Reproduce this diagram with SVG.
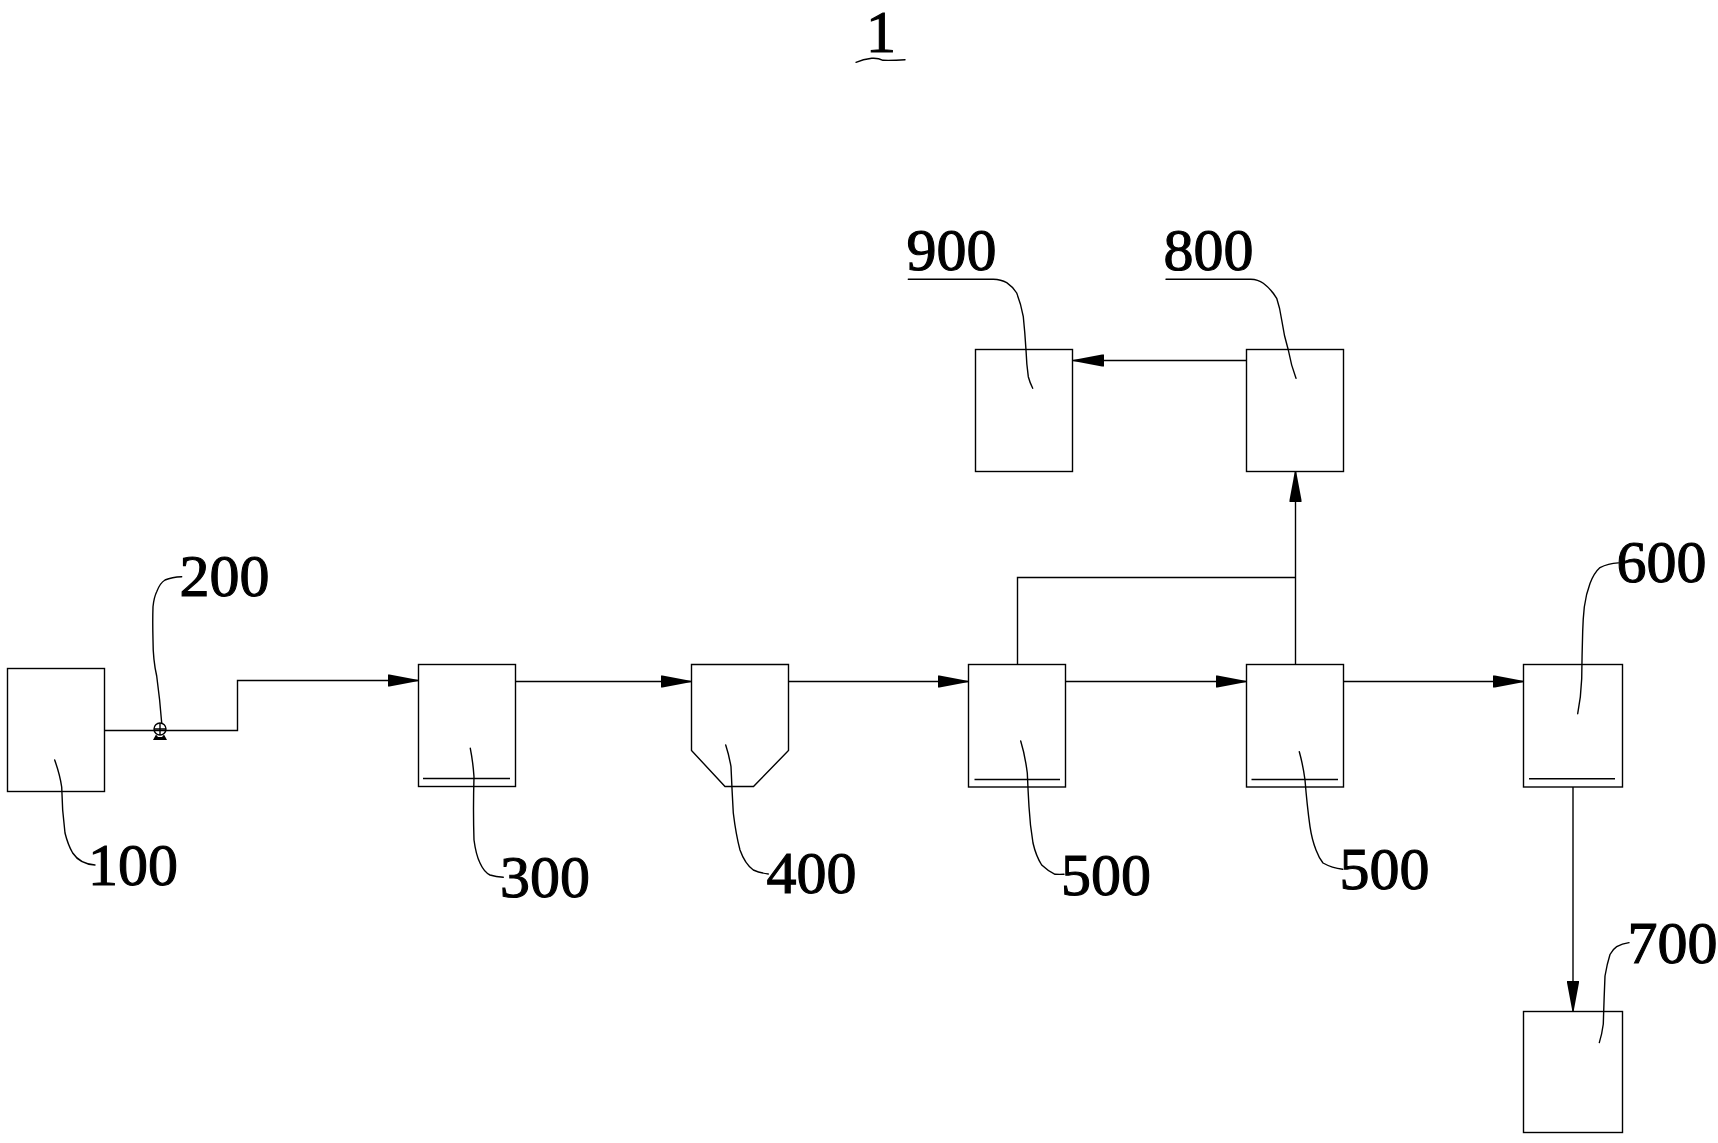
<svg xmlns="http://www.w3.org/2000/svg" width="1718" height="1143" viewBox="0 0 1718 1143">
<style>
.s{fill:none;stroke:#000;stroke-width:1.4}
.l{fill:none;stroke:#000;stroke-width:1.4;stroke-linecap:round}
.t{font-family:"Liberation Serif","Times New Roman",serif;font-size:60px;fill:#000;stroke:#000;stroke-width:1.1}
.c{fill:none;stroke:#000;stroke-width:1.4;marker-end:url(#a)}
</style>
<defs>
<marker id="a" markerUnits="userSpaceOnUse" markerWidth="32" markerHeight="14" refX="31" refY="7" orient="auto"><path d="M0 1L2 1L31 6.4V7.6L2 13L0 13Z" fill="#000"/></marker>
</defs>
<rect width="1718" height="1143" fill="#fff"/>
<g id="connectors">
<path class="c" d="M104 730.5H237.5V680.5H418.5"/>
<path class="c" d="M516 681.5H691.5"/>
<path class="c" d="M788 681.5H968.5"/>
<path class="c" d="M1066 681.5H1246.5"/>
<path class="c" d="M1344 681.5H1524"/>
<path class="c" d="M1573 787V1011.5"/>
<path class="c" d="M1295.5 664V471"/>
<path class="s" d="M1017.5 664V577.5H1295.5"/>
<path class="c" d="M1246 360.5H1073"/>
</g>
<g id="title">
<text class="t" x="866" y="52">1</text>
<path class="l" d="M856 62.3Q863 59.5 871.7 58.3Q878 57.8 883 60.3Q893 60.6 905 59.7"/>
</g>
<g id="node-100">
<rect class="s" x="7.5" y="668.5" width="97" height="123"/>
<path class="l" d="M54.7 760Q60 775 61.7 787Q62 810 65 833Q68 845 72.7 853Q80 864 95 865"/>
<text class="t" x="88" y="885">100</text>
</g>
<g id="node-200">
<circle class="s" cx="160" cy="729" r="6"/>
<path class="s" d="M160 723V735M154 729H166"/>
<path d="M156 734.5L153 740H167L164 734.5L162 737H158Z" fill="#000"/>
<path class="l" d="M161.7 723Q160 700 156.7 676Q153 660 153 640Q152.5 620 153 606.7Q154 597 156.7 591.7Q160 583 165 580Q172 577 181.7 576.7"/>
<text class="t" x="179.5" y="596">200</text>
</g>
<g id="node-300">
<rect class="s" x="418.5" y="664.5" width="97" height="122"/>
<path class="s" d="M423 778.5H510"/>
<path class="l" d="M470.3 748.3Q473 762 474 776.7Q473 810 474 840Q476 855 480 863Q484 872 490 875Q496 877 503.3 877.3"/>
<text class="t" x="500" y="897">300</text>
</g>
<g id="node-400">
<path class="s" d="M691.5 664.5H788.5V750.5L753.5 786.5H725L691.5 750.5Z"/>
<path class="l" d="M725.7 745Q729 755 731 766.7Q732 790 733.3 813Q736 835 740 850Q745 864 753.3 870Q760 873 768.3 874"/>
<text class="t" x="766.5" y="893">400</text>
</g>
<g id="node-500a">
<rect class="s" x="968.5" y="664.5" width="97" height="122.5"/>
<path class="s" d="M974.5 779.5H1060"/>
<path class="l" d="M1020.7 741Q1025 755 1027.3 773Q1028 790 1029 806.7Q1030 825 1033 843Q1036 856 1041.7 865Q1048 871 1055 874.3Q1060 874.5 1064 874.3"/>
<text class="t" x="1061" y="895">500</text>
</g>
<g id="node-500b">
<rect class="s" x="1246.5" y="664.5" width="97" height="122.5"/>
<path class="s" d="M1251.5 779.5H1338"/>
<path class="l" d="M1299.3 751.7Q1303 765 1305 780Q1307 805 1310 826.7Q1312 840 1316 850Q1319 858 1323 863Q1332 868 1342.7 869.3"/>
<text class="t" x="1339.5" y="889">500</text>
</g>
<g id="node-600">
<rect class="s" x="1523.5" y="664.5" width="99" height="122.5"/>
<path class="s" d="M1529 778.7H1615"/>
<path class="l" d="M1577.7 713.7Q1581 697 1581.7 678.7Q1582 655 1582.7 631Q1583 619 1584.3 607Q1586 594 1590 583.5Q1594 573 1600 567.6Q1608 563.5 1618.3 562.9"/>
<text class="t" x="1616.5" y="582">600</text>
</g>
<g id="node-700">
<rect class="s" x="1523.5" y="1011.5" width="99" height="121"/>
<path class="l" d="M1599.3 1042.6Q1602 1034 1603.3 1024Q1604 1000 1605 976Q1607 964 1610 954.5Q1613 949 1616.7 946.6Q1622 943.5 1629 942.6"/>
<text class="t" x="1627.5" y="962.5">700</text>
</g>
<g id="node-800">
<rect class="s" x="1246.5" y="349.5" width="97" height="122"/>
<path class="l" d="M1166 279.3H1250.7Q1258 279.5 1263.3 283.3Q1271 289 1276.7 298.3Q1280 308 1281.7 320Q1284 336 1288.3 350Q1291 365 1296 378.3"/>
<text class="t" x="1163.5" y="270">800</text>
</g>
<g id="node-900">
<rect class="s" x="975.5" y="349.5" width="97" height="122"/>
<path class="l" d="M908.3 279.3H993.3Q1001 279.5 1006.7 282.7Q1013 287 1016.7 293Q1021 304 1023.3 316.7Q1025 333 1026 350Q1026.5 364 1028.3 376.7Q1030 383 1032.7 388.3"/>
<text class="t" x="906.5" y="270">900</text>
</g>
</svg>
